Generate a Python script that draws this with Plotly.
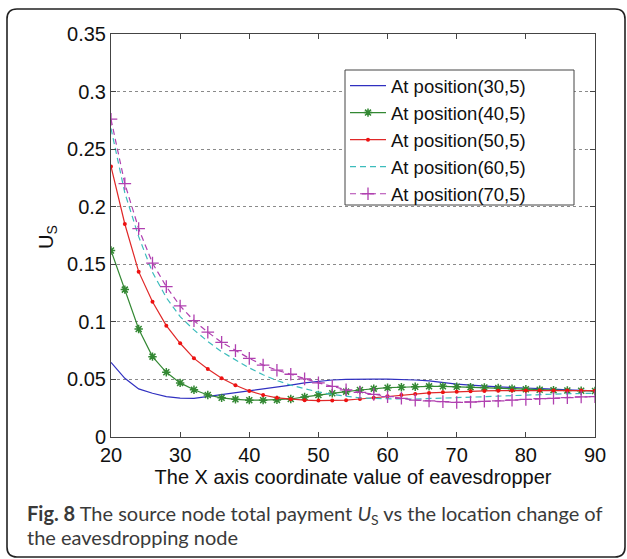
import plotly.graph_objects as go

# ---------------- data ----------------
x_vals = [20, 22, 24, 26, 28, 30, 32, 34, 36, 38, 40, 42, 44, 46, 48, 50, 52, 54,
          56, 58, 60, 62, 64, 66, 68, 70, 72, 74, 76, 78, 80, 82, 84, 86, 88, 90]

us_30 = [0.0648, 0.051, 0.0418, 0.038, 0.035, 0.0338, 0.0336, 0.0352, 0.0365, 0.038,
         0.040, 0.0415, 0.043, 0.045, 0.047, 0.0485, 0.0495, 0.050, 0.0503, 0.0503,
         0.0502, 0.050, 0.0495, 0.0487, 0.0472, 0.046, 0.045, 0.044, 0.0435, 0.043,
         0.0427, 0.042, 0.0415, 0.041, 0.0405, 0.040]

us_40 = [0.162, 0.128, 0.0938, 0.0698, 0.0562, 0.047, 0.041, 0.0365, 0.034, 0.0327,
         0.032, 0.032, 0.0322, 0.033, 0.0348, 0.0365, 0.038, 0.0394, 0.0408, 0.042,
         0.0428, 0.0432, 0.0437, 0.044, 0.044, 0.0437, 0.0433, 0.043, 0.0425, 0.042,
         0.0415, 0.041, 0.0407, 0.0404, 0.0402, 0.040]

us_50 = [0.235, 0.185, 0.1436, 0.1175, 0.0967, 0.0814, 0.0683, 0.059, 0.051, 0.045,
         0.040, 0.0365, 0.034, 0.0327, 0.032, 0.0316, 0.0316, 0.032, 0.033, 0.034,
         0.0353, 0.0365, 0.0373, 0.0383, 0.0388, 0.0394, 0.0398, 0.040, 0.0402, 0.0403,
         0.0404, 0.0404, 0.0404, 0.0404, 0.0403, 0.0402]

us_60 = [0.268, 0.212, 0.174, 0.143, 0.121, 0.1045, 0.093, 0.083, 0.074, 0.067,
         0.060, 0.054, 0.049, 0.045, 0.042, 0.039, 0.037, 0.0355, 0.034, 0.0335,
         0.033, 0.033, 0.033, 0.0333, 0.0337, 0.034, 0.0345, 0.035, 0.0355, 0.036,
         0.0365, 0.037, 0.0373, 0.0376, 0.0378, 0.038]

us_70 = [0.276, 0.220, 0.181, 0.151, 0.1306, 0.1138, 0.101, 0.091, 0.0822, 0.075,
         0.0683, 0.0625, 0.058, 0.0545, 0.0505, 0.047, 0.044, 0.041, 0.0388, 0.037,
         0.035, 0.0336, 0.032, 0.0313, 0.0307, 0.030, 0.0304, 0.031, 0.0313, 0.032,
         0.0327, 0.0333, 0.0336, 0.0342, 0.0348, 0.035]

series_names = ["At position(30,5)", "At position(40,5)", "At position(50,5)",
                "At position(60,5)", "At position(70,5)"]

x_ticks = [20, 30, 40, 50, 60, 70, 80, 90]
y_ticks = [0, 0.05, 0.1, 0.15, 0.2, 0.25, 0.3, 0.35]
y_ticktext = ["0", "0.05", "0.1", "0.15", "0.2", "0.25", "0.3", "0.35"]

x_title = "The X axis coordinate value of eavesdropper"
y_title = "U<sub>S</sub>"
caption_line1 = ("<b>Fig. 8</b> The source node total payment <i>U</i><sub>S</sub> "
                 "vs the location change of")
caption_line2 = "the eavesdropping node"

# ---------------- figure ----------------
W, H = 627, 559
L, R, T, B = 111, 32, 34, 122
pw, ph = W - L - R, H - T - B

def px_x(p):
    return (p - L) / pw

def px_y(p):
    return (H - B - p) / ph

fig = go.Figure()

fig.add_trace(go.Scatter(x=x_vals, y=us_30, name=series_names[0], mode="lines",
                         line=dict(color="#3030c0", width=1.2)))
fig.add_trace(go.Scatter(x=x_vals, y=us_40, name=series_names[1], mode="lines+markers",
                         line=dict(color="#338833", width=1.2),
                         marker=dict(symbol="asterisk-open", size=7,
                                     line=dict(color="#0e800e", width=1.5))))
fig.add_trace(go.Scatter(x=x_vals, y=us_50, name=series_names[2], mode="lines+markers",
                         line=dict(color="#e02828", width=1.2),
                         marker=dict(symbol="circle", size=4, color="#ee1111")))
fig.add_trace(go.Scatter(x=x_vals, y=us_60, name=series_names[3], mode="lines",
                         line=dict(color="#3cbcbc", width=1.2, dash="6px,4px")))
fig.add_trace(go.Scatter(x=x_vals, y=us_70, name=series_names[4], mode="lines+markers",
                         line=dict(color="#b040b0", width=1.2, dash="6px,4px"),
                         marker=dict(symbol="cross-thin-open", size=9,
                                     line=dict(color="#b020b0", width=1.3))))

axis_font = dict(family="Liberation Sans, Arial, sans-serif", size=20, color="#111111")

fig.update_xaxes(range=[20, 90], tickvals=x_ticks, ticks="inside", ticklen=5,
                 tickcolor="#444444", showline=True, linecolor="#444444", linewidth=1,
                 mirror="ticks", showgrid=False, zeroline=False, tickfont=axis_font,
                 title=dict(text=x_title, font=axis_font, standoff=4))
fig.update_yaxes(range=[0, 0.35], tickvals=y_ticks, ticktext=y_ticktext, ticks="inside",
                 ticklen=5, tickcolor="#444444", showline=True, linecolor="#444444",
                 linewidth=1, mirror="ticks", showgrid=True, gridcolor="#8a8a8a",
                 griddash="dot", gridwidth=1, zeroline=False, tickfont=axis_font)

# y-axis title placed precisely
fig.add_annotation(x=px_x(47), y=px_y(237), xref="paper", yref="paper",
                   xanchor="center", yanchor="middle", showarrow=False,
                   textangle=-90, text=y_title, font=axis_font)

# rounded outer frame
x0, x1 = px_x(7), px_x(625)
yt, yb = px_y(9), px_y(557)
rx, ry = 10 / pw, 10 / ph
frame = (f"M {x0+rx},{yt} L {x1-rx},{yt} Q {x1},{yt} {x1},{yt-ry} "
         f"L {x1},{yb+ry} Q {x1},{yb} {x1-rx},{yb} L {x0+rx},{yb} "
         f"Q {x0},{yb} {x0},{yb+ry} L {x0},{yt-ry} Q {x0},{yt} {x0+rx},{yt} Z")
fig.add_shape(type="path", path=frame, xref="paper", yref="paper",
              line=dict(color="#222222", width=1.6), layer="below")

# legend box (drawn as a shape so it can be wider than the legend content)
fig.add_shape(type="rect", xref="paper", yref="paper",
              x0=px_x(345), x1=px_x(574), y0=px_y(205), y1=px_y(70),
              fillcolor="white", line=dict(color="#444444", width=1), layer="above")

cap_font = dict(family="Lato, Open Sans, sans-serif", size=20, color="#3a3a3a")
fig.add_annotation(x=px_x(25), y=px_y(514), xref="paper", yref="paper",
                   xanchor="left", yanchor="middle", showarrow=False,
                   text=caption_line1, font=cap_font)
fig.add_annotation(x=px_x(25), y=px_y(537), xref="paper", yref="paper",
                   xanchor="left", yanchor="middle", showarrow=False,
                   text=caption_line2, font=cap_font)

fig.update_layout(
    width=W, height=H,
    margin=dict(l=L, r=R, t=T, b=B),
    paper_bgcolor="white", plot_bgcolor="white",
    showlegend=True,
    legend=dict(x=px_x(345), y=px_y(67), xanchor="left", yanchor="top",
                bgcolor="rgba(0,0,0,0)", borderwidth=0,
                font=dict(family="Liberation Sans, Arial, sans-serif", size=18.5,
                          color="#111111"),
                tracegroupgap=0, itemwidth=36),
)

fig.write_html("out.html")
